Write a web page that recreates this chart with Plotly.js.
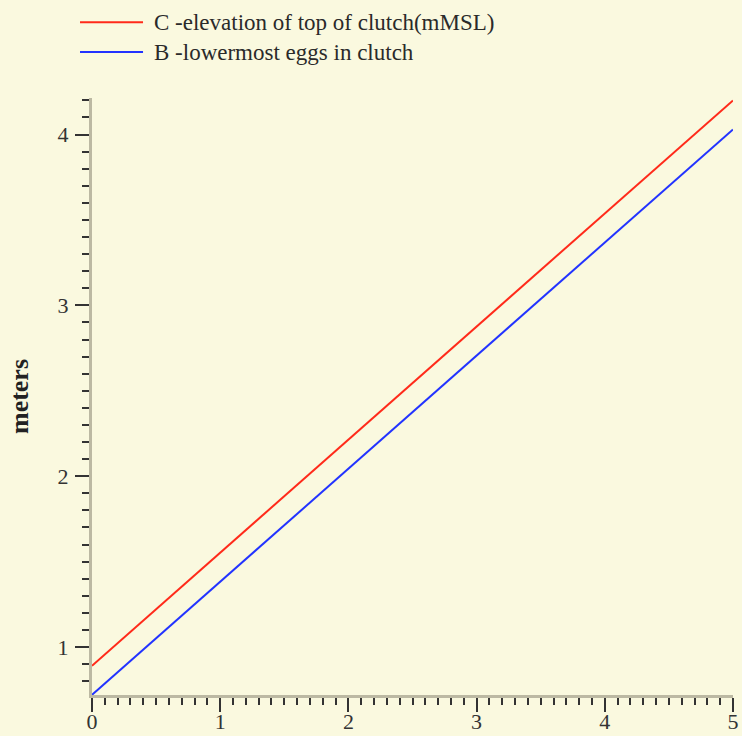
<!DOCTYPE html>
<html>
<head>
<meta charset="utf-8">
<script src="https://cdn.plot.ly/plotly-3.0.1.min.js"></script>
<style>
html,body{margin:0;padding:0;background:#faf9df;}
#chart{width:742px;height:736px;}
</style>
</head>
<body>
<div id="chart"></div>
<script>
// Data
const xValues = [0, 5];
const seriesNames = ["C -elevation of top of clutch(mMSL)", "B -lowermost eggs in clutch"];
const topOfClutch = [0.89, 4.2];
const lowermostEggs = [0.72, 4.03];
const seriesColors = ["#ff2a1a", "#2233ff"];
const yTitle = "meters";

const bg = "#faf9df";
const axisLineColor = "#bcb9a3";
const tickColor = "#333333";
const fontFam = "Liberation Serif, serif";

const traces = [
  {x: xValues, y: topOfClutch, name: seriesNames[0], mode: "lines",
   line: {color: seriesColors[0], width: 2}, showlegend: false},
  {x: xValues, y: lowermostEggs, name: seriesNames[1], mode: "lines",
   line: {color: seriesColors[1], width: 2}, showlegend: false}
];

// Legend drawn manually (long line samples)
const legendY = [1.127, 1.077];
const shapes = [];
const annotations = [];
for (let i = 0; i < seriesNames.length; i++) {
  shapes.push({type: "line", xref: "paper", yref: "paper",
    x0: -0.0187, x1: 0.0796, y0: legendY[i], y1: legendY[i],
    line: {color: seriesColors[i], width: 2}});
  annotations.push({xref: "paper", yref: "paper", x: 0.0936, y: legendY[i],
    xanchor: "left", yanchor: "middle", showarrow: false, text: seriesNames[i],
    font: {family: fontFam, size: 23, color: "#2a2a2a"}});
}

const axisCommon = {
  showline: true, linecolor: axisLineColor, linewidth: 3,
  ticks: "outside", ticklen: 14, tickwidth: 2, tickcolor: tickColor,
  showgrid: false, zeroline: false,
  tickfont: {family: fontFam, size: 22, color: "#333"},
  minor: {dtick: 0.1, ticks: "outside", ticklen: 7, tickwidth: 2, tickcolor: tickColor, showgrid: false}
};

const layout = {
  width: 742, height: 736,
  paper_bgcolor: bg, plot_bgcolor: bg,
  margin: {l: 92, r: 9, t: 98, b: 41},
  font: {family: fontFam},
  xaxis: Object.assign({}, axisCommon, {range: [0, 5], dtick: 1, tick0: 0, ticklabelstandoff: -9}),
  yaxis: Object.assign({}, axisCommon, {range: [0.719, 4.214], dtick: 1, tick0: 0, ticklabelstandoff: 2,
    title: {text: "<b>" + yTitle + "</b>", font: {family: fontFam, size: 26, color: "#222"}, standoff: 22}}),
  shapes: shapes,
  annotations: annotations,
  showlegend: false
};

Plotly.newPlot("chart", traces, layout, {displayModeBar: false});
</script>
</body>
</html>
